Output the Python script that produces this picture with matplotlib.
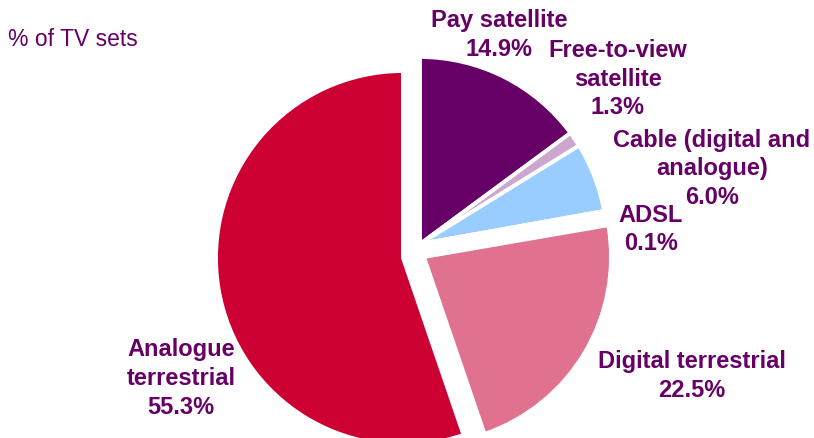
import matplotlib.pyplot as plt

plt.rcParams['font.family'] = ['Liberation Sans', 'DejaVu Sans']

# TV platform shares, clockwise from 12 o'clock
platforms = ["Pay satellite", "Free-to-view\nsatellite", "Cable (digital and\nanalogue)",
             "ADSL", "Digital terrestrial", "Analogue\nterrestrial"]
shares = [14.9, 1.3, 6.0, 0.1, 22.5, 55.3]
colours = ["#660066", "#CCA6CC", "#99CCFF", "#003366", "#E1728F", "#CC0033"]

W, H = 814, 439
CX, CY, R = 420, 245, 187

# how far each wedge is pulled away from the centre (pixels, x right / y down)
offsets = [(0, 0), (0, 0), (0, 0), (0, 0), (4, 13), (-17, 14)]

# centre of the first label line in pixels from the top-left corner
label_pos = [(499, 20), (618, 50), (712, 140), (651, 215), (692, 362), (181, 350)]
LINE_STEP = 29

fig = plt.figure(figsize=(W / 100, H / 100), dpi=100)
ax = fig.add_axes([0, 0, 1, 1])

wedges, _ = ax.pie(shares, colors=colours, startangle=90, counterclock=False,
                   center=(CX, H - CY), radius=R, frame=True,
                   wedgeprops=dict(edgecolor='white', linewidth=2.8))
for w, (dx, dy) in zip(wedges, offsets):
    w.set_center((CX + dx, H - CY - dy))

ax.set_xlim(0, W)
ax.set_ylim(0, H)
ax.set_aspect('equal')
ax.axis('off')

for name, val, (x, y) in zip(platforms, shares, label_pos):
    lines = name.split("\n") + [f"{val:.1f}%"]
    for i, line in enumerate(lines):
        ax.text(x, H - y - i * LINE_STEP, line, ha='center', va='center',
                fontsize=17, fontweight='bold', color='#660066')

ax.text(8, H - 39, "% of TV sets", ha='left', va='center', fontsize=16.5, color='#660066')

fig.savefig("out.png", dpi=100)
